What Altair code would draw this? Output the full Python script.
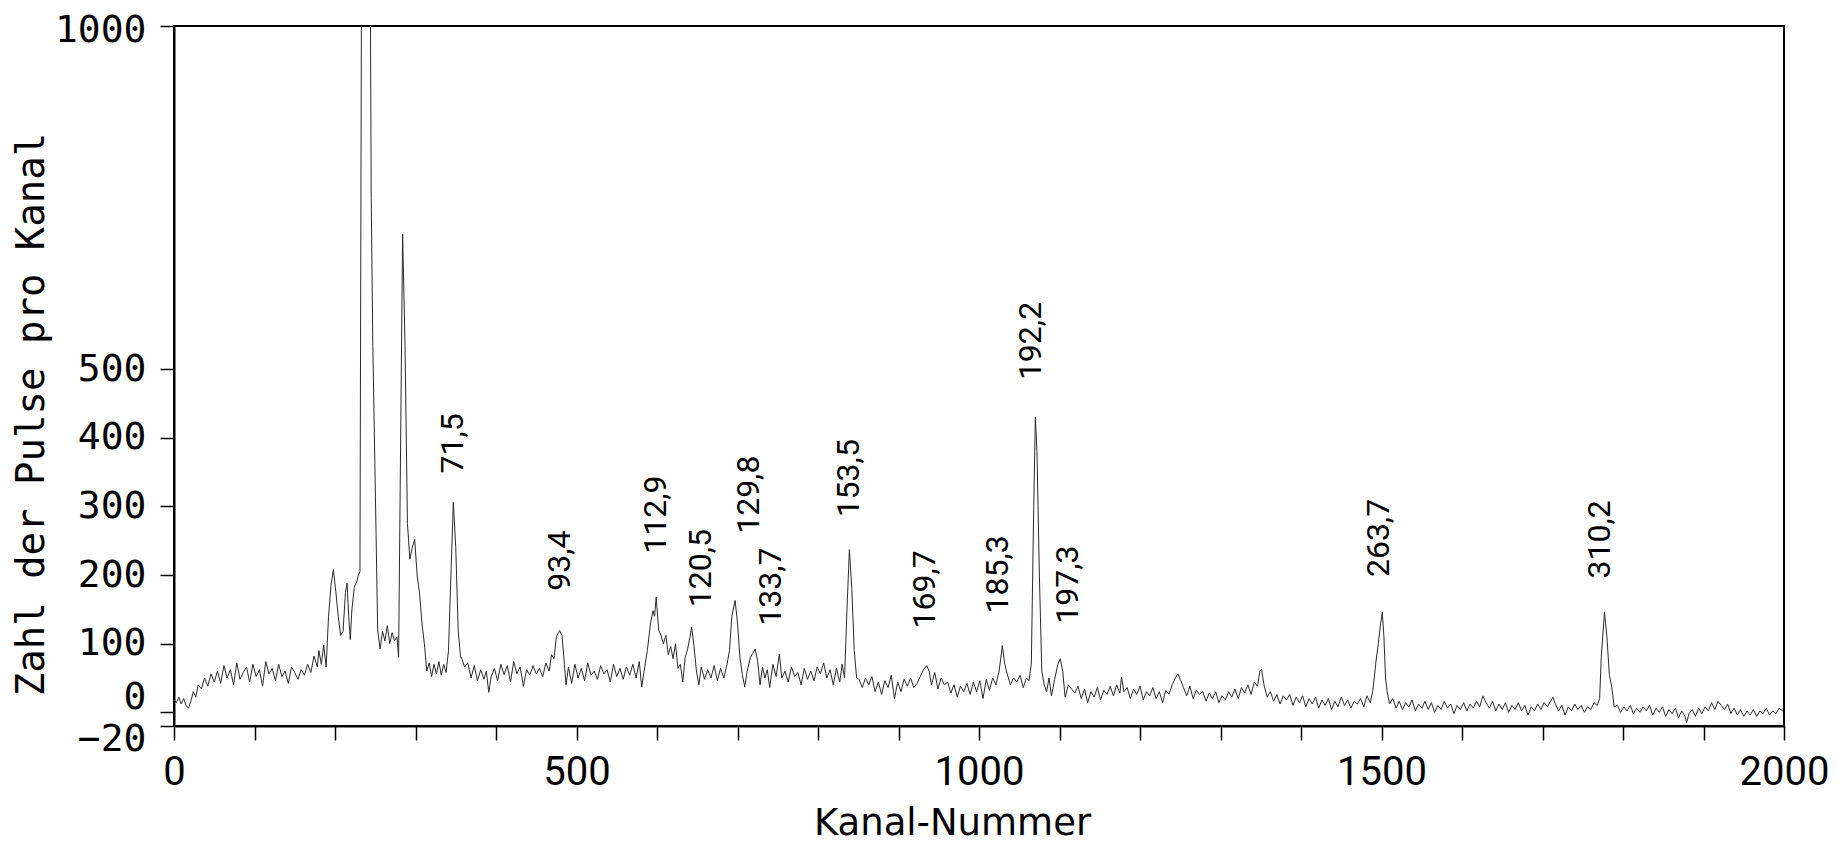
import altair as alt
import pandas as pd

# (Kanal, Pulse)
seg_a = [(0,18),(3,14),(6,22),(9,12),(12,20),(15,10),(18,6),(21,16),(24,30),(27,22),
         (30,40),(34,34),(38,50),(42,38),(46,56),(50,44),(54,60),(58,42),(62,68),(66,50),
         (70,62),(74,40),(78,72),(82,48),(86,58),(90,66),(94,44),(98,70),(102,52),(106,62),
         (110,38),(114,74),(118,56),(122,64),(126,46),(130,70),(134,52),(138,60),(142,42),(146,66),
         (150,58),(154,48),(158,62),(162,54),(166,70),(170,58),(174,82),(178,66),
         (180,90),(183,70),(186,98),(189,66),(192,140),(195,185),(198,208),(201,176),(204,140),(207,112),
         (210,118),(213,175),(215,188),(217,140),(219,106),(221,150),(224,182),(227,190),(229,200),(231,205),
         (233,1100),(236,1600),(240,1600),(243,1300),(245,750),(247,533),(251,262),(253,120),(256,92),(259,118),
         (262,104),(265,126),(268,100),(271,116),(274,104),(277,110),(279,80),(281,330),(284,697),(287,533),
         (290,275),(293,223),(296,240),(299,252),(302,200),(305,174),(308,130),(311,100),(314,60),(317,72),
         (320,52),(323,70),(326,56),(329,74),(332,54),(335,70),(338,58),(341,90),(344,200),(347,306),
         (350,240),(353,120),(356,80)]

seg_b = [(357,80),(361,66),(365,72),(369,50),(373,68),(377,46),(381,62),(385,48),(388,60),(391,29),
         (394,52),(398,64),(402,46),(406,70),(410,55),(414,68),(418,44),(422,74),(426,56),(430,66),
         (434,38),(438,62),(442,54),(446,68),(450,56),(454,64),(458,52),(462,72),(466,60),(469,84),
         (472,78),(475,110),(479,119),(482,112),(485,70),(487,40),(490,66),(494,42),(498,70),(502,50),
         (506,64),(510,46),(514,72),(518,54),(522,60),(526,48),(530,68),(534,56),(538,62),(542,44),
         (546,70),(550,52),(554,64),(558,48),(562,66),(566,54),(570,70),(574,50),(578,74),(581,37),
         (584,60),(588,90),(592,130),(595,148),(597,140),(599,168),(602,120),(605,112),(608,100),(611,112),
         (614,84),(617,96),(620,78),(623,100),(626,64),(629,70),(632,44),(635,80),(638,92),(641,110),
         (643,124),(646,96),(649,60),(652,40),(655,66),(659,48),(663,62),(667,50),(671,68),(675,46),
         (679,64),(683,50),(687,70),(690,90),(693,140),(697,163),(700,130),(703,80),(706,55),(709,37),
         (712,60),(716,80),(719,86),(722,92),(725,75),(728,40),(731,66),(734,50),(737,62),(740,36),
         (744,70),(748,52),(752,85),(755,50),(759,60),(763,44),(767,66),(771,52),(775,58),(779,40),
         (783,64),(787,48),(791,60),(795,46),(799,66),(803,56),(807,72),(811,50),(815,62),(819,40),
         (823,64),(827,44),(830,70),(833,50),(836,150),(839,237),(842,180),(845,90),(848,50)]

seg_c = [(851,48),(855,36),(859,50),(863,40),(867,52),(871,30),(875,44),(879,26),(883,46),(887,36),
         (891,54),(895,20),(899,44),(903,30),(907,48),(911,38),(915,50),(919,36),(923,42),(927,52),
         (931,62),(935,68),(938,60),(941,40),(945,58),(949,34),(953,50),(957,40),(961,44),(965,28),
         (969,40),(973,22),(977,38),(981,30),(985,42),(989,26),(993,44),(997,30),(1001,46),(1005,20),
         (1009,48),(1013,32),(1017,50),(1021,40),(1025,60),(1029,97),(1032,70),(1035,56),(1039,40),(1043,50),
         (1047,44),(1051,54),(1055,36),(1059,50),(1062,46),(1065,70),(1068,300),(1070,430),(1072,380),(1075,200),
         (1078,60),(1081,40),(1084,30),(1087,50),(1090,24),(1094,48),(1098,70),(1101,78),(1104,60),(1107,22),
         (1111,40),(1115,34),(1119,28),(1123,38),(1127,20),(1131,34),(1135,14),(1139,30),(1143,22),(1147,36),
         (1151,18),(1155,32),(1159,26),(1163,38),(1167,24),(1171,40),(1175,28),(1177,51),(1180,30),(1184,36),
         (1188,20),(1192,34),(1196,26),(1200,38),(1204,18),(1208,30),(1212,24),(1216,36),(1220,20),(1224,30),
         (1228,14),(1232,32),(1236,26),(1240,40),(1244,50),(1247,56),(1250,48),(1254,36),(1258,24),(1262,38),
         (1266,20),(1270,32),(1274,26),(1278,30),(1282,16),(1286,28),(1290,20),(1294,30),(1298,14),(1302,24),
         (1306,18),(1310,30),(1314,22),(1318,34),(1322,20),(1326,36),(1330,28),(1334,40),(1338,26),(1342,44),
         (1346,38),(1349,60),(1351,63),(1354,40),(1358,22),(1362,30),(1366,16),(1370,26),(1374,12),(1378,24),
         (1382,18),(1386,26),(1390,10),(1394,22),(1398,14),(1402,24),(1406,8),(1410,20),(1414,12),(1418,22),
         (1422,6),(1426,18),(1430,10),(1434,20),(1438,4),(1442,16),(1446,8),(1450,22),(1454,10),(1458,18),
         (1462,6),(1466,16),(1470,12),(1474,20),(1478,8),(1482,24),(1486,14),(1489,30),(1491,50),(1493,73),
         (1496,100),(1499,130)]

seg_d = [(1501,146),(1503,110),(1505,50),(1507,30),(1510,12),(1514,20),(1518,6),(1522,16),(1526,4),(1530,14),
         (1534,8),(1538,18),(1542,2),(1546,12),(1550,6),(1554,16),(1558,4),(1562,14),(1566,0),(1570,10),
         (1574,4),(1578,16),(1582,6),(1586,12),(1590,-2),(1594,10),(1598,4),(1602,14),(1606,2),(1610,12),
         (1614,6),(1618,16),(1622,8),(1626,24),(1630,14),(1634,6),(1638,16),(1642,2),(1646,12),(1650,4),
         (1654,14),(1658,0),(1662,10),(1666,4),(1670,14),(1674,2),(1678,10),(1682,-4),(1686,8),(1690,2),
         (1694,12),(1698,4),(1702,14),(1706,8),(1710,16),(1713,22),(1716,12),(1720,2),(1724,10),(1728,-4),
         (1732,8),(1736,2),(1740,12),(1744,4),(1748,10),(1752,0),(1756,8),(1760,4),(1764,14),(1768,10),
         (1771,20),(1773,80),(1777,146),(1780,110),(1783,55),(1786,37),(1789,8),(1793,10),(1797,0),(1801,8),
         (1805,2),(1809,10),(1813,-2),(1817,6),(1821,0),(1825,8),(1829,2),(1833,10),(1837,-4),(1841,6),
         (1845,0),(1849,8),(1853,-6),(1857,4),(1861,-2),(1865,6),(1869,-8),(1873,2),(1877,-6),(1879,-15),
         (1882,-2),(1886,4),(1890,-6),(1894,6),(1898,-2),(1902,8),(1906,2),(1910,14),(1914,4),(1918,16),
         (1922,10),(1926,4),(1930,12),(1934,-2),(1938,6),(1942,-4),(1946,4),(1950,-6),(1954,2),(1958,-4),
         (1962,4),(1966,-6),(1970,2),(1974,-2),(1978,6),(1982,-4),(1986,2),(1990,-2),(1994,6),(1998,2),
         (2000,4)]

# peak energy labels (keV) with the channel and count level where each label starts
peak_text = ["71,5", "93,4", "112,9", "120,5", "129,8", "133,7", "153,5",
             "169,7", "185,3", "192,2", "197,3", "263,7", "310,2"]
peak_channel = [346, 480, 599, 655, 714, 741, 839, 933, 1023, 1065, 1111, 1497, 1771]
peak_label_level = [348, 177, 231, 153, 260, 126, 284, 122, 144, 484, 129, 197, 195]

x_ticks = list(range(0, 2001, 100))
y_ticks = [-20, 0, 100, 200, 300, 400, 500, 1000]

spectrum = pd.DataFrame(seg_a + seg_b + seg_c + seg_d, columns=["kanal", "pulse"])
labels = pd.DataFrame({"kanal": peak_channel, "pulse": peak_label_level, "text": peak_text})

NARROW = "Roboto, Liberation Sans, sans-serif"

x_enc = alt.X(
    "kanal:Q",
    scale=alt.Scale(domain=[0, 2000], nice=False, zero=False),
    axis=alt.Axis(
        values=x_ticks, format="d",
        labelExpr="datum.value % 500 === 0 ? datum.label : ''",
        title="Kanal-Nummer", grid=False,
        tickSize=14, tickWidth=1.5, tickColor="black",
        domainColor="black", domainWidth=2,
        labelFont=NARROW, labelFontSize=40, labelColor="black", labelPadding=12,
        labelOverlap=False, labelFlush=False,
        titleFont="DejaVu Sans", titleFontSize=37, titleFontWeight="normal", titleColor="black",
        titleX=778, titleY=108, titleAlign="center", titleBaseline="alphabetic",
    ),
)
y_enc = alt.Y(
    "pulse:Q",
    scale=alt.Scale(domain=[-20, 1000], nice=False, zero=False),
    axis=alt.Axis(
        values=y_ticks, format="d",
        title="Zahl der Pulse pro Kanal", grid=False,
        tickSize=14, tickWidth=1.5, tickColor="black",
        domainColor="black", domainWidth=2,
        labelFont="DejaVu Sans Mono", labelFontSize=38, labelColor="black", labelPadding=14,
        labelOverlap=False, labelFlush=False,
        labelOffset={"condition": [{"test": "datum.value === 0", "value": -15},
                                   {"test": "datum.value === -20", "value": 13},
                                   {"test": "datum.value === 1000", "value": 4}],
                     "value": 0},
        titleFont="DejaVu Sans Mono", titleFontSize=39, titleFontWeight="normal", titleColor="black",
        titleX=-143, titleY=388, titleAngle=270, titleAlign="center", titleBaseline="middle",
    ),
)

line = alt.Chart(spectrum).mark_line(color="#2a2a2a", strokeWidth=1, clip=True).encode(
    x=x_enc, y=y_enc
)
text = alt.Chart(labels).mark_text(
    angle=270, align="left", baseline="middle", font=NARROW, fontSize=32, color="black"
).encode(x="kanal:Q", y="pulse:Q", text="text:N")

chart = (
    alt.layer(line, text)
    .properties(
        width=1610, height=700,
        autosize=alt.AutoSizeParams(type="none"),
        padding={"left": 166, "top": 18, "right": 52, "bottom": 118},
        background="white",
    )
    .configure_view(stroke="black", strokeWidth=2)
)

chart.save("out.html", embed_options={"renderer": "svg", "actions": False})
